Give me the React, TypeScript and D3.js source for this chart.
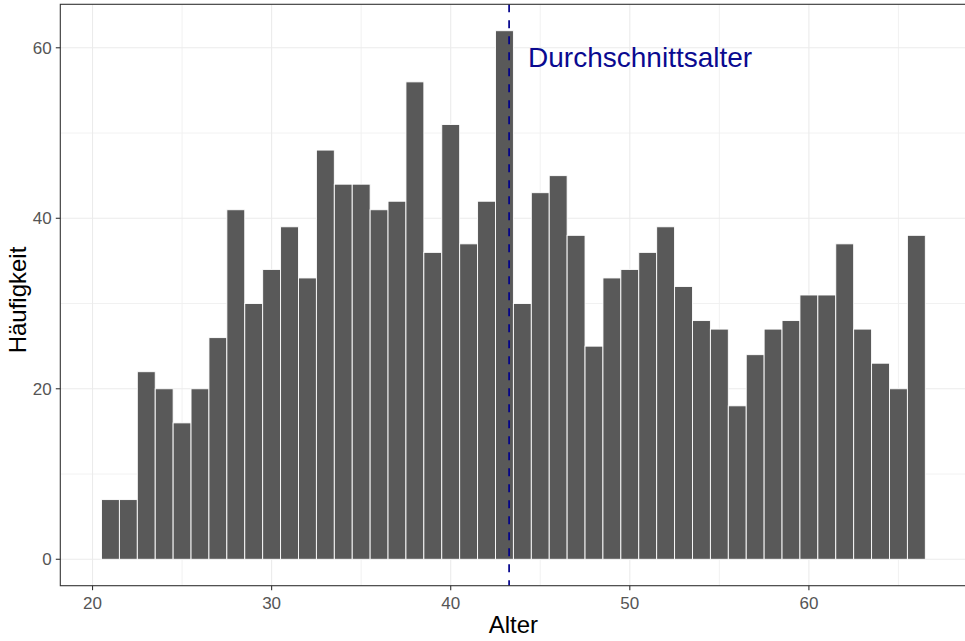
import React, { useEffect, useRef } from "react";
import * as d3 from "d3";

// one bar per year of age
const ages = [
  21, 22, 23, 24, 25, 26, 27, 28, 29, 30, 31, 32, 33, 34, 35, 36, 37, 38, 39, 40,
  41, 42, 43, 44, 45, 46, 47, 48, 49, 50, 51, 52, 53, 54, 55, 56, 57, 58, 59, 60,
  61, 62, 63, 64, 65, 66,
];
const counts = [
  7, 7, 22, 20, 16, 20, 26, 41, 30, 34, 39, 33, 48, 44, 44, 41, 42, 56, 36, 51,
  37, 42, 62, 30, 43, 45, 38, 25, 33, 34, 36, 39, 32, 28, 27, 18, 24, 27, 28, 31,
  31, 37, 27, 23, 20, 38,
];
const meanAge = 43.26;

const xTicks = [20, 30, 40, 50, 60];
const xMinorTicks = [25, 35, 45, 55, 65];
const yTicks = [0, 20, 40, 60];
const yMinorTicks = [10, 30, 50];

const meanLabel = "Durchschnittsalter";
const xTitle = "Alter";
const yTitle = "Häufigkeit";

const width = 965,
  height = 641;
const panel = { left: 60.3, top: 4.3, right: 966.5, bottom: 585.7 };
const font = "'Liberation Sans', Arial, sans-serif";

export default function App(): JSX.Element {
  const svgRef = useRef<SVGSVGElement>(null);

  useEffect(() => {
    if (!svgRef.current) return;
    const svg = d3.select(svgRef.current);
    svg.selectAll("*").remove();

    const bins = ages.map((age, i) => ({ age, count: counts[i] }));

    // ggplot-like 5% expansion
    const lo = d3.min(ages)! - 0.5,
      hi = d3.max(ages)! + 0.5;
    const xPad = (hi - lo) * 0.05;
    const yMax = d3.max(counts)!;
    const x = d3
      .scaleLinear()
      .domain([lo - xPad, hi + xPad])
      .range([panel.left, panel.right]);
    const y = d3
      .scaleLinear()
      .domain([-yMax * 0.05, yMax * 1.05])
      .range([panel.bottom, panel.top]);

    svg
      .append("rect")
      .attr("width", width)
      .attr("height", height)
      .attr("fill", "white");

    const grid = svg.append("g");
    grid
      .selectAll("line.vminor")
      .data(xMinorTicks)
      .join("line")
      .attr("x1", (d) => x(d))
      .attr("x2", (d) => x(d))
      .attr("y1", panel.top)
      .attr("y2", panel.bottom)
      .attr("stroke", "#EFEFEF")
      .attr("stroke-width", 0.9);
    grid
      .selectAll("line.hminor")
      .data(yMinorTicks)
      .join("line")
      .attr("x1", panel.left)
      .attr("x2", panel.right)
      .attr("y1", (d) => y(d))
      .attr("y2", (d) => y(d))
      .attr("stroke", "#EFEFEF")
      .attr("stroke-width", 0.9);
    grid
      .selectAll("line.vmajor")
      .data(xTicks)
      .join("line")
      .attr("x1", (d) => x(d))
      .attr("x2", (d) => x(d))
      .attr("y1", panel.top)
      .attr("y2", panel.bottom)
      .attr("stroke", "#EBEBEB")
      .attr("stroke-width", 1.1);
    grid
      .selectAll("line.hmajor")
      .data(yTicks)
      .join("line")
      .attr("x1", panel.left)
      .attr("x2", panel.right)
      .attr("y1", (d) => y(d))
      .attr("y2", (d) => y(d))
      .attr("stroke", "#EBEBEB")
      .attr("stroke-width", 1.1);

    svg
      .append("g")
      .selectAll("rect")
      .data(bins)
      .join("rect")
      .attr("x", (d) => x(d.age - 0.5))
      .attr("width", (d) => x(d.age + 0.5) - x(d.age - 0.5))
      .attr("y", (d) => y(d.count))
      .attr("height", (d) => y(0) - y(d.count))
      .attr("fill", "#595959")
      .attr("stroke", "white")
      .attr("stroke-width", 0.9);

    // mean line + label
    svg
      .append("line")
      .attr("x1", x(meanAge))
      .attr("x2", x(meanAge))
      .attr("y1", panel.top)
      .attr("y2", panel.bottom)
      .attr("stroke", "#00008B")
      .attr("stroke-width", 1.7)
      .attr("stroke-dasharray", "8,8");

    svg
      .append("text")
      .attr("x", x(44.32))
      .attr("y", y(57.8))
      .attr("font-family", font)
      .attr("font-size", 28)
      .attr("fill", "#0A0A90")
      .text(meanLabel);

    // panel border
    svg
      .append("rect")
      .attr("x", panel.left)
      .attr("y", panel.top)
      .attr("width", panel.right - panel.left)
      .attr("height", panel.bottom - panel.top)
      .attr("fill", "none")
      .attr("stroke", "#333333")
      .attr("stroke-width", 1.1);

    const xAxis = svg.append("g");
    xAxis
      .selectAll("line")
      .data(xTicks)
      .join("line")
      .attr("x1", (d) => x(d))
      .attr("x2", (d) => x(d))
      .attr("y1", panel.bottom)
      .attr("y2", panel.bottom + 4.5)
      .attr("stroke", "#333333")
      .attr("stroke-width", 1.1);
    xAxis
      .selectAll("text")
      .data(xTicks)
      .join("text")
      .attr("x", (d) => x(d))
      .attr("y", 608.5)
      .attr("text-anchor", "middle")
      .attr("font-family", font)
      .attr("font-size", 17)
      .attr("fill", "#555555")
      .text((d) => d);

    const yAxis = svg.append("g");
    yAxis
      .selectAll("line")
      .data(yTicks)
      .join("line")
      .attr("x1", panel.left - 4.5)
      .attr("x2", panel.left)
      .attr("y1", (d) => y(d))
      .attr("y2", (d) => y(d))
      .attr("stroke", "#333333")
      .attr("stroke-width", 1.1);
    yAxis
      .selectAll("text")
      .data(yTicks)
      .join("text")
      .attr("x", 51.7)
      .attr("y", (d) => y(d))
      .attr("dy", "0.36em")
      .attr("text-anchor", "end")
      .attr("font-family", font)
      .attr("font-size", 17)
      .attr("fill", "#555555")
      .text((d) => d);

    svg
      .append("text")
      .attr("x", (panel.left + panel.right) / 2)
      .attr("y", 633)
      .attr("text-anchor", "middle")
      .attr("font-family", font)
      .attr("font-size", 24)
      .attr("fill", "black")
      .text(xTitle);

    svg
      .append("text")
      .attr("transform", `translate(25.5, ${(panel.top + panel.bottom) / 2 + 5}) rotate(-90)`)
      .attr("text-anchor", "middle")
      .attr("font-family", font)
      .attr("font-size", 24)
      .attr("fill", "black")
      .text(yTitle);
  }, []);

  return (
    <svg
      ref={svgRef}
      width={width}
      height={height}
      style={{ position: "absolute", left: 0, top: 0, display: "block" }}
    />
  );
}
